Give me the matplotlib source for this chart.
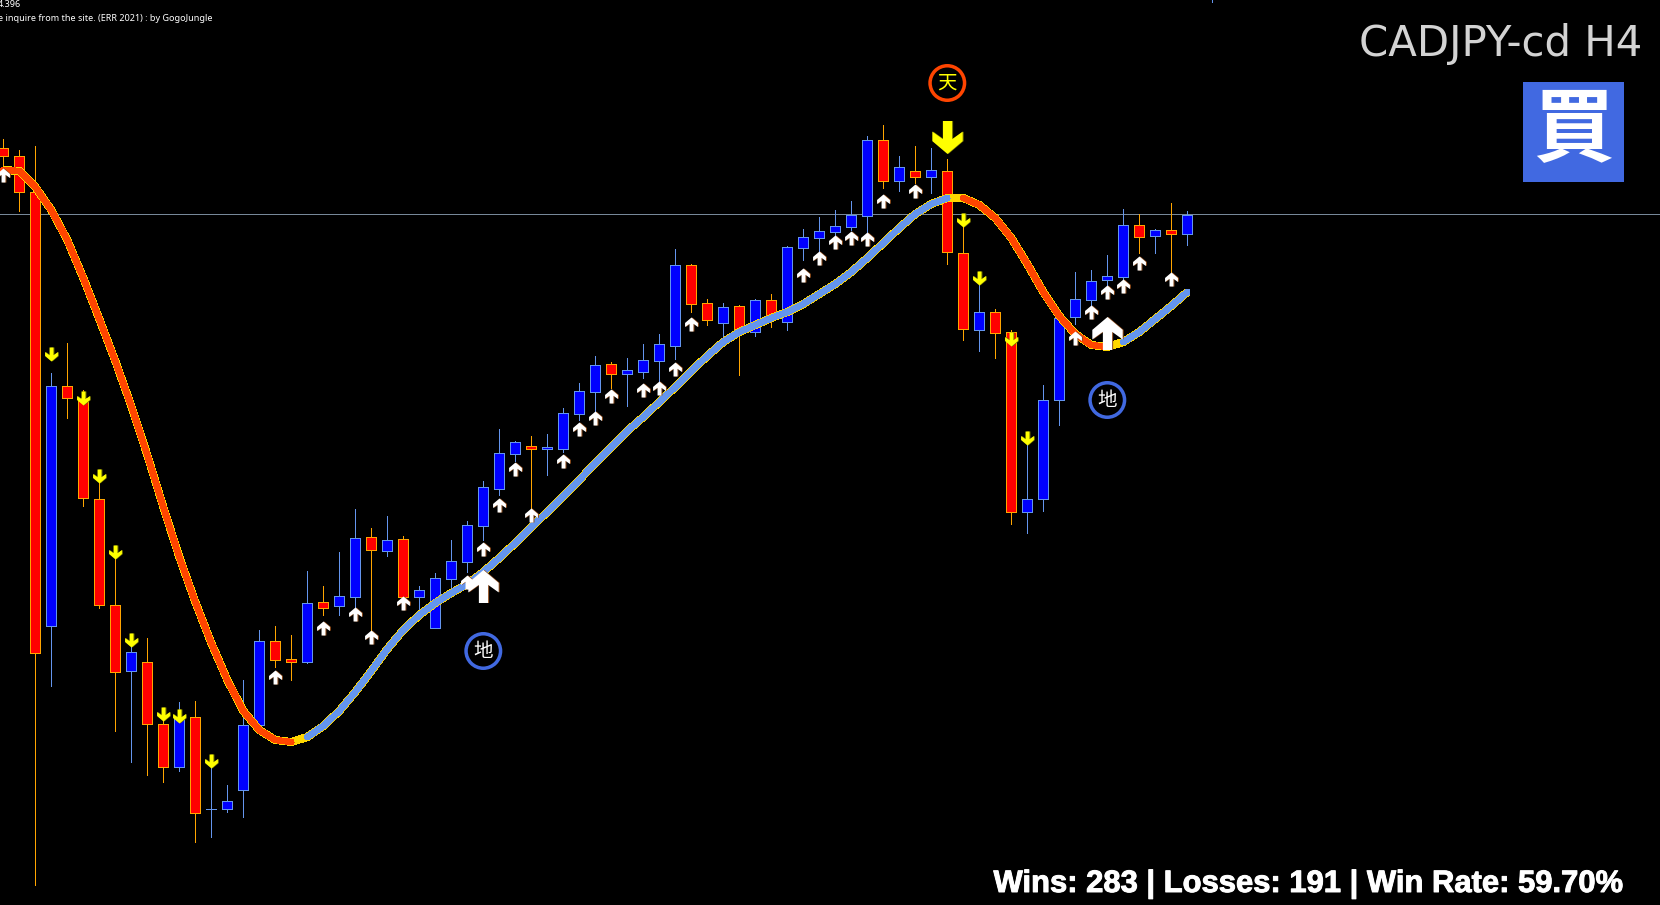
import matplotlib
matplotlib.use("Agg")
import matplotlib.pyplot as plt
import matplotlib.patheffects as pe
import numpy as np
from matplotlib.path import Path

W, H = 1660, 905
SYMBOL = "CADJPY-cd H4"
SIGNAL_TEXT = "買"
STATS = "Wins: 283 | Losses: 191 | Win Rate: 59.70%"
PRICE_NOTE = "4.396"
INFO_NOTE = "e inquire from the site. (ERR 2021) : by GogoJungle"
CJK = ["Noto Sans CJK JP", "DejaVu Sans"]

# Values on an inverted chart scale (smaller = higher)
opens = [148,156,192,626,386,398,499,605,671,662,724,767,717,809,809,790,725,641,659,662,602,606,597,537,551,539,597,628,579,562,526,489,454,446,449,449,414,392,364,374,372,361,346,265,303,323,306,332,300,322,248,238,232,227,216,140,181,171,177,171,253,330,312,332,512,499,400,317,300,280,277,225,236,230,234]
closes = [156,192,653,386,398,498,605,672,652,724,767,717,813,809,801,725,641,660,662,603,608,596,538,550,540,597,590,578,561,525,487,453,442,449,447,413,391,365,374,370,360,344,265,304,320,307,332,300,317,247,237,231,226,215,140,181,167,177,170,252,329,312,333,512,499,400,318,299,281,276,225,237,230,234,215]
highs = [139,150,146,373,343,390,483,558,646,638,719,702,701,767,785,680,630,626,635,571,586,552,509,528,516,536,586,573,540,521,481,429,441,436,434,408,383,356,362,358,344,334,249,264,299,303,305,299,294,246,229,217,210,201,136,125,156,146,148,159,223,283,309,330,438,385,318,272,270,255,209,214,229,203,211]
lows = [165,211,885,686,418,506,608,731,762,775,782,771,842,837,812,817,725,667,680,663,615,615,608,630,556,598,613,628,592,572,540,495,461,508,475,452,420,412,388,406,378,382,359,312,325,340,375,336,327,330,260,258,237,230,233,188,191,183,193,264,340,351,358,524,533,511,425,324,305,285,280,253,253,272,245]
ma = [170,171,187,210,240,278,319,361,406,455,507,557,602,643,680,711,730,740,742,737,726,711,692,671,649,630,615,603,593,584,572,558,543,527,512,496,480,463,447,431,417,402,387,371,356,342,332,325,318,312,304,294,284,272,258,243,228,214,204,198,198,205,218,238,264,292,316,334,345,347,342,332,319,306,292]
ma_main_spans = [(0, 18, "#FF4500"), (19, 59, "#6495ED"), (60, 69, "#FF4500"), (70, 74, "#6495ED")]

up_idx = [0,17,20,22,23,25,29,30,31,32,33,35,36,37,38,40,41,42,43,50,51,52,53,54,55,57,67,68,69,70,71,73]
up_lvl = [175,677,628,614,637,603,582,549,505,469,515,461,429,418,396,390,388,369,324,275,258,242,238,239,201,191,338,312,292,286,263,279]
down_idx = [3,5,6,7,8,10,11,13,60,61,63,64]
down_lvl = [354,398,476,552,640,714,716,761,220,278,339,438]
big_up_idx = [30,69]
big_up_lvl = [586,333]
big_down_idx = [59]
big_down_lvl = [137]
ring_idx = [59,30,69]
ring_lvl = [83,651,400]
ring_text = ["天","地","地"]
ring_edge = ["#FF4500","#4169E1","#4169E1"]
ring_ink = ["#FFFF00","#FFFFFF","#FFFFFF"]
ref_level = 214

fig = plt.figure(figsize=(W/100, H/100), dpi=100, facecolor="black")
ax = fig.add_axes([0, 0, 1, 1], facecolor="black")
ax.set_xlim(-3.3/16, (W-3.3)/16)
ax.set_ylim(H, 0)
ax.axis("off")
PX = 0.72

idx = np.arange(len(opens))
o, c = np.array(opens), np.array(closes)
bear = c > o
wick_col = np.where(bear, "#FFA500", "#6495ED")
body_col = np.where(bear, "#FF0000", "#0000FF")

ax.axhline(ref_level, color="#778899", lw=PX, zorder=1, antialiased=False)
ax.vlines(idx, highs, lows, colors=list(wick_col), lw=PX, zorder=2, antialiased=False)
ax.bar(idx, np.abs(c-o), bottom=np.minimum(o, c), width=0.625, color=list(body_col),
       edgecolor=list(wick_col), linewidth=PX, zorder=3, antialiased=False)
ax.vlines([75.55], [0], [2], colors="#6495ED", lw=PX, zorder=2, antialiased=False)

ax.plot(idx, ma, color="#FFD700", lw=7*PX, zorder=4, solid_capstyle="butt", solid_joinstyle="round", antialiased=False)
for a, b, col in ma_main_spans:
    ax.plot(idx[a:b+1], ma[a:b+1], color=col, lw=5.5*PX, zorder=5, solid_capstyle="round", solid_joinstyle="round", antialiased=False)

verts = [(0,.5),(.46,.11),(.46,-.18),(.14,.05),(.14,-.5),(-.14,-.5),(-.14,.05),(-.46,-.18),(-.46,.11),(0,.5)]
arrow_up = Path(verts, closed=True)
arrow_dn = Path([(x, -y) for x, y in verts], closed=True)
def arrows(i, y, m, col, size_px, shade=None):
    i = np.asarray(i, dtype=float)
    if shade:
        ax.scatter(i + 1/16, y, marker=m, s=(size_px*PX)**2, c=shade, linewidths=0, zorder=6)
    ax.scatter(i, y, marker=m, s=(size_px*PX)**2, c=col, linewidths=0, zorder=6.5)
arrows(up_idx, up_lvl, arrow_up, "#FFFFFF", 14, "#8B4A1A")
arrows(down_idx, down_lvl, arrow_dn, "#FFFF00", 14, "#6B6B00")
arrows(big_up_idx, big_up_lvl, arrow_up, "#FFFFFF", 33, "#8B4A1A")
arrows(big_down_idx, big_down_lvl, arrow_dn, "#FFFF00", 33, "#6B6B00")

ax.scatter(ring_idx, ring_lvl, s=(34.5*PX)**2, facecolors="none", edgecolors=ring_edge, linewidths=3.5*PX, zorder=7)
for i, y, t, col in zip(ring_idx, ring_lvl, ring_text, ring_ink):
    ax.text(i, y, t, color=col, fontsize=14, family=CJK, ha="center", va="center", zorder=8)

def px(x, y):
    return x/W, 1-y/H
fig.text(*px(1642, 56), SYMBOL, color="#D3D3D3", fontsize=30.2, family="DejaVu Sans", ha="right", va="baseline")
fig.patches.append(plt.Rectangle(px(1523, 182), 101/W, 100/H, transform=fig.transFigure, fc="#4169E1", ec="none"))
fig.text(*px(1573.5, 132), SIGNAL_TEXT, color="white", fontsize=58, family=CJK, fontweight="bold", ha="center", va="center")
fig.text(*px(1624.5, 892), STATS, color="white", fontsize=22.3, family="Liberation Sans", fontweight="bold", ha="right", va="baseline",
         path_effects=[pe.withStroke(linewidth=0.7, foreground="white")])
fig.text(*px(21, 7), PRICE_NOTE, color="#FFFFFF", fontsize=6.5, family="Noto Sans", ha="right", va="baseline")
fig.text(*px(212, 21), INFO_NOTE, color="#FFFFFF", fontsize=6.5, family="Noto Sans", ha="right", va="baseline")

fig.savefig("out.png", dpi=100, facecolor="black")
